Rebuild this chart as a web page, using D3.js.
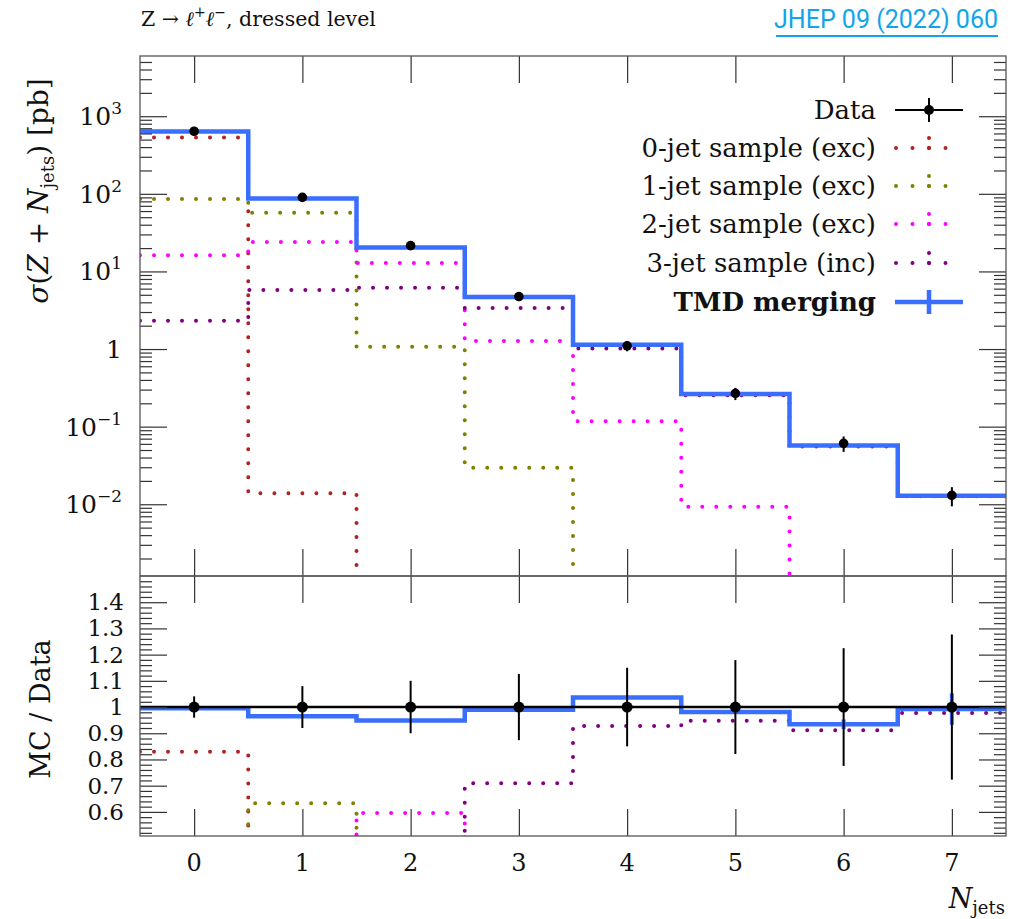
<!DOCTYPE html>
<html>
<head>
<meta charset="utf-8">
<script src="https://cdn.jsdelivr.net/npm/d3@7"></script>
<style>
  html, body { margin: 0; padding: 0; background: #ffffff; }
  svg text { font-family: "DejaVu Serif", "Liberation Serif", serif; fill: #111; }
</style>
</head>
<body>
<svg id="chart" width="1022" height="919"></svg>
<script>
// Jet multiplicity bins
const nJets = [0, 1, 2, 3, 4, 5, 6, 7];

// Measured cross sections [pb] and their uncertainties
const dataXsec = [640, 90, 21.5, 4.75, 1.10, 0.268, 0.061, 0.0130];
const dataErr  = [26, 7.2, 2.15, 0.60, 0.165, 0.048, 0.0137, 0.0036];

// TMD merged prediction and its statistical uncertainty
const tmdMerging = [637, 86.8, 20.4, 4.70, 1.14, 0.263, 0.057, 0.0129];
const tmdErr     = [0, 0, 0, 0, 0, 0, 0.0011, 0.00078];

// Individual multiplicity samples (0 = no events)
const jet0Exc = [531, 0.0139, 0, 0, 0, 0, 0, 0];
const jet1Exc = [86, 57, 1.07, 0.0296, 0, 0, 0, 0];
const jet2Exc = [16.2, 23.9, 12.8, 1.27, 0.117, 0.0093, 0, 0];
const jet3Inc = [2.32, 5.76, 6.17, 3.37, 1.02, 0.254, 0.0556, 0.0127];

// Axis ticks
const logTicks = [1e-2, 1e-1, 1, 1e1, 1e2, 1e3];
const logTickBase = ["10", "10", "1", "10", "10", "10"];
const logTickExp  = ["\u22122", "\u22121", "", "1", "2", "3"];
const ratioTicks = [0.6, 0.7, 0.8, 0.9, 1.0, 1.1, 1.2, 1.3, 1.4];
const ratioTickLabels = ["0.6", "0.7", "0.8", "0.9", "1", "1.1", "1.2", "1.3", "1.4"];

// Legend entries
const legendLabels = ["Data", "0-jet sample (exc)", "1-jet sample (exc)", "2-jet sample (exc)", "3-jet sample (inc)", "TMD merging"];

const sampleSeries = [
  { values: jet0Exc, color: "#b22222" },
  { values: jet1Exc, color: "#808000" },
  { values: jet2Exc, color: "#ff00ff" },
  { values: jet3Inc, color: "#800080" }
];
const tmdColor = "#3a6eff";

// ---- layout ----
const L = 140, R = 1006, T = 56, M = 576, B = 836;
const svg = d3.select("#chart");

const x = d3.scaleLinear().domain([-0.5, 7.5]).range([L, R]);
const yTop = d3.scaleLog().domain([1.19e-3, 5.97e3]).range([M, T]);
const yRat = d3.scaleLinear().domain([0.508, 1.5]).range([B, M]);

const defs = svg.append("defs");
defs.append("clipPath").attr("id", "clipTop").append("rect")
  .attr("x", L).attr("y", T).attr("width", R - L).attr("height", M - T);
defs.append("clipPath").attr("id", "clipBot").append("rect")
  .attr("x", L).attr("y", M).attr("width", R - L).attr("height", B - M);

// step outline across the bins; off-scale values fall below the panel
function stepPoints(values, yFn, floorY) {
  const pts = [];
  values.forEach((v, i) => {
    const yy = (v > 0 && isFinite(yFn(v))) ? Math.min(yFn(v), floorY + 20) : floorY + 20;
    pts.push([x(nJets[i] - 0.5), yy], [x(nJets[i] + 0.5), yy]);
  });
  return pts;
}
const line = d3.line();

// ---------- upper panel ----------
const gTop = svg.append("g").attr("clip-path", "url(#clipTop)");

sampleSeries.forEach(s => {
  gTop.append("path")
    .attr("d", line(stepPoints(s.values, yTop, M)))
    .attr("fill", "none").attr("stroke", s.color).attr("stroke-width", 4)
    .attr("stroke-linecap", "round").attr("stroke-dasharray", "0 14");
});

gTop.append("path")
  .attr("d", line(stepPoints(tmdMerging, yTop, M)))
  .attr("fill", "none").attr("stroke", tmdColor).attr("stroke-width", 4.5);

// data points
gTop.selectAll(".errTop").data(nJets).enter().append("line")
  .attr("x1", d => x(d)).attr("x2", d => x(d))
  .attr("y1", (d, i) => yTop(dataXsec[i] + dataErr[i]))
  .attr("y2", (d, i) => yTop(Math.max(dataXsec[i] - dataErr[i], 1e-6)))
  .attr("stroke", "#000").attr("stroke-width", 2);
gTop.selectAll(".ptTop").data(nJets).enter().append("circle")
  .attr("cx", d => x(d)).attr("cy", (d, i) => yTop(dataXsec[i]))
  .attr("r", 4.8).attr("fill", "#000");

// ---------- lower panel ----------
const gBot = svg.append("g").attr("clip-path", "url(#clipBot)");

sampleSeries.forEach(s => {
  gBot.append("path")
    .attr("d", line(stepPoints(s.values.map((v, i) => v / dataXsec[i]), yRat, B)))
    .attr("fill", "none").attr("stroke", s.color).attr("stroke-width", 4)
    .attr("stroke-linecap", "round").attr("stroke-dasharray", "0 14");
});

gBot.append("path")
  .attr("d", line(stepPoints(tmdMerging.map((v, i) => v / dataXsec[i]), yRat, B)))
  .attr("fill", "none").attr("stroke", tmdColor).attr("stroke-width", 4.5);
gBot.selectAll(".mcErr").data(nJets.filter((d, i) => tmdErr[i] > 0)).enter().append("line")
  .attr("x1", d => x(d)).attr("x2", d => x(d))
  .attr("y1", d => yRat((tmdMerging[d] + tmdErr[d]) / dataXsec[d]))
  .attr("y2", d => yRat((tmdMerging[d] - tmdErr[d]) / dataXsec[d]))
  .attr("stroke", tmdColor).attr("stroke-width", 4);

gBot.append("line")
  .attr("x1", L).attr("x2", R).attr("y1", yRat(1)).attr("y2", yRat(1))
  .attr("stroke", "#000").attr("stroke-width", 2.5);
gBot.selectAll(".errBot").data(nJets).enter().append("line")
  .attr("x1", d => x(d)).attr("x2", d => x(d))
  .attr("y1", (d, i) => yRat(1 + dataErr[i] / dataXsec[i]))
  .attr("y2", (d, i) => yRat(1 - dataErr[i] / dataXsec[i]))
  .attr("stroke", "#000").attr("stroke-width", 2);
gBot.selectAll(".ptBot").data(nJets).enter().append("circle")
  .attr("cx", d => x(d)).attr("cy", yRat(1)).attr("r", 5.5).attr("fill", "#000");

// ---------- axes and ticks ----------
const tickColor = "#333";
function styleAxis(g) {
  g.select(".domain").remove();
  g.selectAll(".tick line").attr("stroke", tickColor).attr("stroke-width", 1.2);
  g.selectAll(".tick text").remove();
}
const logMinor = [];
for (let e = -3; e <= 3; e++) {
  for (let k = 2; k <= 9; k++) {
    const v = k * Math.pow(10, e);
    if (v > yTop.domain()[0] && v < yTop.domain()[1]) logMinor.push(v);
  }
}
const ratMinor = d3.range(26, 75).map(k => k * 0.02)
  .filter(v => v > yRat.domain()[0] && v < yRat.domain()[1] && Math.abs(v * 10 - Math.round(v * 10)) > 1e-6);

// y ticks, both sides, pointing inward
[[d3.axisLeft, L], [d3.axisRight, R]].forEach(([ax, pos]) => {
  svg.append("g").attr("transform", `translate(${pos},0)`)
    .call(ax(yTop).tickValues(logTicks).tickSize(-27)).call(styleAxis);
  svg.append("g").attr("transform", `translate(${pos},0)`)
    .call(ax(yTop).tickValues(logMinor).tickSize(-12)).call(styleAxis);
  svg.append("g").attr("transform", `translate(${pos},0)`)
    .call(ax(yRat).tickValues(ratioTicks).tickSize(-27)).call(styleAxis);
  svg.append("g").attr("transform", `translate(${pos},0)`)
    .call(ax(yRat).tickValues(ratMinor).tickSize(-12)).call(styleAxis);
});

// x ticks on every horizontal edge, pointing inward
[[d3.axisTop, T], [d3.axisBottom, M], [d3.axisTop, M], [d3.axisBottom, B]].forEach(([ax, pos]) => {
  svg.append("g").attr("transform", `translate(0,${pos})`)
    .call(ax(x).tickValues(nJets).tickSize(-27)).call(styleAxis);
});

// frames
svg.append("rect").attr("x", L).attr("y", T).attr("width", R - L).attr("height", M - T)
  .attr("fill", "none").attr("stroke", "#555").attr("stroke-width", 1.3);
svg.append("rect").attr("x", L).attr("y", M).attr("width", R - L).attr("height", B - M)
  .attr("fill", "none").attr("stroke", "#555").attr("stroke-width", 1.3);

// log tick labels
const logLab = svg.append("g");
logTicks.forEach((v, i) => {
  const t = logLab.append("text").attr("x", 122).attr("y", yTop(v) + 9)
    .attr("text-anchor", "end").attr("font-size", 25);
  t.append("tspan").text(logTickBase[i]);
  if (logTickExp[i]) {
    t.append("tspan").attr("font-size", 17).attr("dy", -11).text(logTickExp[i]);
  }
});

// ratio tick labels
svg.append("g").selectAll("text").data(ratioTicks).enter().append("text")
  .attr("x", 124).attr("y", d => yRat(d) + 8)
  .attr("text-anchor", "end").attr("font-size", 23)
  .text((d, i) => ratioTickLabels[i]);

// x tick labels
svg.append("g").selectAll("text").data(nJets).enter().append("text")
  .attr("x", d => x(d)).attr("y", 871)
  .attr("text-anchor", "middle").attr("font-size", 24)
  .text(d => d);

// x axis title
const xt = svg.append("text").attr("x", 1005).attr("y", 908)
  .attr("text-anchor", "end").attr("font-size", 27);
xt.append("tspan").attr("font-style", "italic").text("N");
xt.append("tspan").attr("font-size", 18).attr("dy", 6).text("jets");

// y axis titles
const yt = svg.append("text").attr("transform", "translate(48,191) rotate(-90)")
  .attr("text-anchor", "middle").attr("font-size", 28);
yt.append("tspan").attr("font-style", "italic").text("\u03c3");
yt.append("tspan").text("(");
yt.append("tspan").attr("font-style", "italic").text("Z");
yt.append("tspan").text(" + ");
yt.append("tspan").attr("font-style", "italic").text("N");
yt.append("tspan").attr("font-size", 18).attr("dy", 6).text("jets");
yt.append("tspan").attr("dy", -6).text(") [pb]");

svg.append("text").attr("transform", "translate(50,709) rotate(-90)")
  .attr("text-anchor", "middle").attr("font-size", 27).text("MC / Data");

// title and reference
const title = svg.append("text").attr("x", 141).attr("y", 26).attr("font-size", 20.5);
title.append("tspan").text("Z \u2192 ");
title.append("tspan").attr("font-style", "italic").text("\u2113");
title.append("tspan").attr("font-size", 14).attr("dy", -9).text("+");
title.append("tspan").attr("font-style", "italic").attr("dy", 9).text("\u2113");
title.append("tspan").attr("font-size", 14).attr("dy", -9).text("\u2212");
title.append("tspan").attr("dy", 9).text(", dressed level");

const refColor = "#12a4e8";
svg.append("text").attr("x", 998).attr("y", 28).attr("text-anchor", "end")
  .style("font-family", "Roboto, sans-serif").style("fill", refColor)
  .attr("font-size", 25).text("JHEP 09 (2022) 060");
svg.append("line").attr("x1", 776).attr("x2", 998).attr("y1", 36).attr("y2", 36)
  .attr("stroke", refColor).attr("stroke-width", 2);

// ---------- legend ----------
const legRows = [110, 148, 186, 224, 263, 302];
const legX0 = 895, legX1 = 963, legXC = 929;
const leg = svg.append("g");
legendLabels.forEach((lab, i) => {
  leg.append("text").attr("x", 876).attr("y", legRows[i] + 9)
    .attr("text-anchor", "end").attr("font-size", 26)
    .attr("font-weight", i === 5 ? "bold" : "normal").text(lab);
});
// Data
leg.append("line").attr("x1", legX0).attr("x2", legX1).attr("y1", legRows[0]).attr("y2", legRows[0])
  .attr("stroke", "#000").attr("stroke-width", 2);
leg.append("line").attr("x1", legXC).attr("x2", legXC).attr("y1", legRows[0] - 12).attr("y2", legRows[0] + 12)
  .attr("stroke", "#000").attr("stroke-width", 2);
leg.append("circle").attr("cx", legXC).attr("cy", legRows[0]).attr("r", 5).attr("fill", "#000");
// samples
sampleSeries.forEach((s, i) => {
  const cy = legRows[i + 1];
  leg.append("line").attr("x1", legX0 + 1).attr("x2", legX1 - 1).attr("y1", cy).attr("y2", cy)
    .attr("stroke", s.color).attr("stroke-width", 4).attr("stroke-linecap", "round")
    .attr("stroke-dasharray", "0 16.5");
  leg.append("line").attr("x1", legXC).attr("x2", legXC).attr("y1", cy - 10).attr("y2", cy + 10)
    .attr("stroke", s.color).attr("stroke-width", 4).attr("stroke-linecap", "round")
    .attr("stroke-dasharray", "0 10");
});
// TMD merging
leg.append("line").attr("x1", legX0).attr("x2", legX1).attr("y1", legRows[5]).attr("y2", legRows[5])
  .attr("stroke", tmdColor).attr("stroke-width", 4.5);
leg.append("line").attr("x1", legXC).attr("x2", legXC).attr("y1", legRows[5] - 12).attr("y2", legRows[5] + 12)
  .attr("stroke", tmdColor).attr("stroke-width", 4.5);
</script>
</body>
</html>
